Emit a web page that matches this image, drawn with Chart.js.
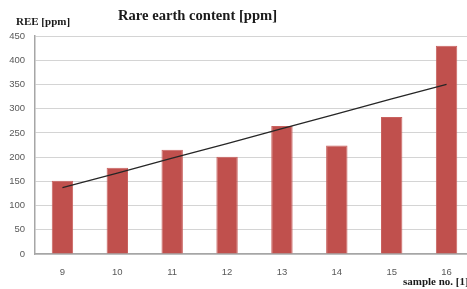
<!DOCTYPE html>
<html>
<head>
<meta charset="utf-8">
<script src="https://cdn.jsdelivr.net/npm/chart.js@4"></script>
<style>
    html, body { margin: 0; padding: 0; background: #fff; overflow: hidden; }
    #wrap { width: 480px; height: 289px; }
</style>
</head>
<body>
<div id="wrap"><canvas id="reeChart" width="480" height="289"></canvas></div>
<script>
// sample numbers and REE content
const samples = ['9', '10', '11', '12', '13', '14', '15', '16'];
const reeValues = [151, 178, 215, 201, 264, 224, 283, 430];
// linear trend line, as drawn in the picture
const trendValues = [137, 167, 198, 228, 259, 289, 320, 350];
const yTicks = [0, 50, 100, 150, 200, 250, 300, 350, 400, 450];

const chartTitle = 'Rare earth content [ppm]';
const yTitle = 'REE [ppm]';
const xTitle = 'sample no. [1]';

// titles are drawn by hand so they sit where the original puts them
const titlesPlugin = {
    id: 'titles',
    afterDraw(chart) {
        const ctx = chart.ctx;
        ctx.save();
        ctx.fillStyle = '#1a1a1a';
        ctx.textAlign = 'left';
        ctx.textBaseline = 'alphabetic';
        ctx.font = 'bold 14.6px "Liberation Serif"';
        ctx.fillText(chartTitle, 118, 20);
        ctx.font = 'bold 11px "Liberation Serif"';
        ctx.fillText(yTitle, 16, 25);
        ctx.fillText(xTitle, 403, 285);
        ctx.restore();
    }
};

const ctx = document.getElementById('reeChart');

new Chart(ctx, {
    type: 'bar',
    data: {
        labels: samples,
        datasets: [{
            type: 'line',
            label: 'trend',
            data: trendValues,
            borderColor: '#262626',
            borderWidth: 1.3,
            pointRadius: 0,
            fill: false,
            tension: 0,
            order: 0
        }, {
            label: 'REE',
            data: reeValues,
            backgroundColor: '#c0504d',
            borderColor: '#c9625f',
            borderWidth: 1,
            barPercentage: 0.39,
            categoryPercentage: 1,
            order: 1
        }]
    },
    options: {
        responsive: false,
        animation: false,
        layout: { padding: { top: 36, right: 6, left: 0, bottom: 0 } },
        plugins: {
            legend: { display: false },
            tooltip: { enabled: false }
        },
        scales: {
            x: {
                grid: { display: false },
                border: { color: '#a6a6a6', width: 1.5 },
                ticks: {
                    color: '#595959',
                    font: { family: 'Liberation Sans', size: 9.5 },
                    padding: 5,
                    maxRotation: 0
                },
                afterFit: (scale) => { scale.height = 35; }
            },
            y: {
                min: 0,
                max: 450,
                afterBuildTicks: (scale) => { scale.ticks = yTicks.map(v => ({ value: v })); },
                grid: { color: '#d4d4d4', lineWidth: 1, drawTicks: false },
                border: { color: '#a6a6a6', width: 1.5 },
                ticks: {
                    color: '#595959',
                    font: { family: 'Liberation Sans', size: 9.5 },
                    padding: 10
                },
                afterFit: (scale) => { scale.width = 35; }
            }
        }
    },
    plugins: [titlesPlugin]
});
</script>
</body>
</html>
